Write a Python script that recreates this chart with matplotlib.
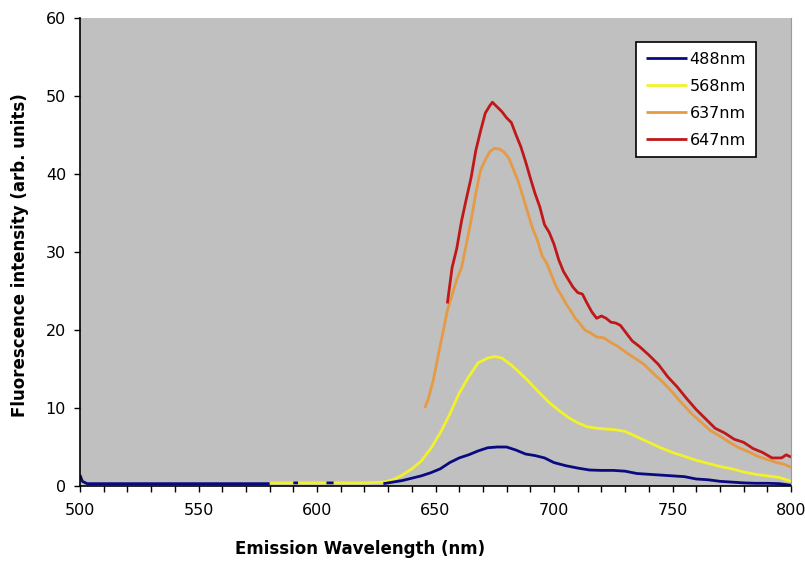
import numpy as np
import matplotlib
matplotlib.use("Agg")
import matplotlib.pyplot as plt
from matplotlib.ticker import MultipleLocator

nan = np.nan

# 488 nm excitation (gap around 580-628 nm, only a couple of short stubs)
wl_488 = [500, 501, 503, 510, 520, 530, 540, 550, 560, 570, 580, nan,
          590, 592, nan, 604, 607, nan,
          628, 632, 636, 640, 644, 648, 652, 656, 660, 664, 668, 672, 676, 680,
          684, 688, 692, 696, 700, 705, 710, 715, 720, 725, 730, 735, 740, 745,
          750, 755, 760, 765, 770, 775, 780, 785, 790, 795, 800]
int_488 = [1.4, 0.6, 0.3, 0.3, 0.3, 0.3, 0.3, 0.3, 0.3, 0.3, 0.3, nan,
           0.4, 0.4, nan, 0.4, 0.4, nan,
           0.3, 0.5, 0.7, 1.0, 1.3, 1.7, 2.2, 3.0, 3.6, 4.0, 4.5, 4.9, 5.0, 5.0,
           4.6, 4.1, 3.9, 3.6, 3.0, 2.6, 2.3, 2.05, 2.0, 2.0, 1.9, 1.6, 1.5, 1.4,
           1.3, 1.2, 0.9, 0.8, 0.6, 0.5, 0.4, 0.35, 0.35, 0.3, 0.1]

# 568 nm excitation
wl_568 = [580, 590, 600, 610, 620, 628, 632, 636, 640, 644, 648, 652, 656, 660,
          664, 668, 672, 675, 678, 682, 686, 690, 694, 698, 702, 706, 710, 714,
          718, 722, 726, 730, 735, 740, 745, 750, 755, 760, 765, 770, 775, 780,
          785, 790, 795, 800]
int_568 = [0.4, 0.4, 0.4, 0.4, 0.4, 0.5, 0.8, 1.4, 2.2, 3.2, 4.8, 6.8, 9.2, 11.9,
           14.0, 15.8, 16.4, 16.6, 16.4, 15.5, 14.4, 13.2, 11.9, 10.7, 9.7, 8.8,
           8.1, 7.6, 7.4, 7.3, 7.2, 7.0, 6.3, 5.6, 4.9, 4.3, 3.8, 3.3, 2.9, 2.5,
           2.2, 1.8, 1.5, 1.3, 1.1, 0.6]

# 637 nm excitation
wl_637 = [645.5, 647, 649, 651, 653, 655, 657, 659, 661, 663, 665, 667, 669, 671,
          673, 675, 677, 679, 681, 683, 685, 687, 689, 691, 693, 695, 697, 699,
          701, 703, 705, 707, 709, 711, 713, 715, 718, 721, 724, 727, 730, 734,
          738, 742, 746, 750, 754, 758, 762, 766, 770, 774, 778, 782, 786, 790,
          794, 797, 800]
int_637 = [10.0, 11.2, 13.5, 16.5, 19.5, 22.5, 24.5, 26.5, 28.0, 31.0, 34.0, 37.5,
           40.5, 41.8, 42.9, 43.3, 43.2, 42.8, 42.0, 40.5, 39.0, 37.0, 35.0, 33.0,
           31.5, 29.5, 28.5, 27.0, 25.5, 24.5, 23.4, 22.5, 21.5, 20.8, 20.0, 19.7,
           19.1, 19.0, 18.4, 17.9, 17.2, 16.4, 15.6, 14.4, 13.3, 12.0, 10.6, 9.3,
           8.2, 7.1, 6.4, 5.6, 4.9, 4.4, 3.8, 3.4, 3.0, 2.8, 2.4]

# 647 nm excitation
wl_647 = [655, 657, 659, 661, 663, 665, 667, 669, 671, 673, 674, 676, 678, 680,
          682, 684, 686, 688, 690, 692, 694, 696, 698, 700, 702, 704, 706, 708,
          710, 712, 714, 716, 718, 720, 722, 724, 726, 728, 730, 733, 736, 740,
          744, 748, 752, 756, 760, 764, 768, 772, 776, 780, 784, 788, 792, 796,
          798, 800]
int_647 = [23.4, 28.0, 30.5, 34.0, 36.8, 39.5, 43.0, 45.5, 47.8, 48.8, 49.2, 48.6,
           48.0, 47.2, 46.6, 45.0, 43.5, 41.6, 39.5, 37.5, 35.8, 33.5, 32.5, 31.0,
           29.0, 27.5, 26.5, 25.5, 24.8, 24.6, 23.4, 22.3, 21.5, 21.8, 21.5, 21.0,
           20.9, 20.6, 19.8, 18.6, 17.9, 16.8, 15.6, 14.0, 12.7, 11.2, 9.8, 8.6,
           7.4, 6.8, 6.0, 5.6, 4.8, 4.3, 3.6, 3.6, 4.0, 3.7]

labels = ["488nm", "568nm", "637nm", "647nm"]
colors = ["#0a0a80", "#f2f22a", "#e59a45", "#c01818"]
# blue sits on top so its short stubs show over the yellow baseline
zorders = [2.5, 2.1, 2.2, 2.3]

fig = plt.figure(figsize=(8.05, 5.61), dpi=100)
ax = fig.add_axes([80 / 805, 1 - 486 / 561, 711 / 805, 468 / 561])
ax.set_facecolor("#c0c0c0")

series = [(wl_488, int_488), (wl_568, int_568), (wl_637, int_637), (wl_647, int_647)]
for (x, y), lab, c, z in zip(series, labels, colors, zorders):
    ax.plot(x, y, color=c, lw=2.0, label=lab, solid_capstyle="butt", zorder=z)

ax.set_xlim(500, 800)
ax.set_ylim(0, 60)
ax.xaxis.set_major_locator(MultipleLocator(50))
ax.xaxis.set_minor_locator(MultipleLocator(10))
ax.yaxis.set_major_locator(MultipleLocator(10))
ax.tick_params(axis="both", which="both", direction="out", length=4, width=1,
               labelsize=11.5, colors="black")
ax.tick_params(axis="x", pad=8)
ax.tick_params(axis="y", pad=6)

for s in ["left", "bottom"]:
    ax.spines[s].set_color("black")
    ax.spines[s].set_linewidth(1.2)
ax.spines["top"].set_visible(False)
ax.spines["right"].set_color("#9a9a9a")

ax.set_xlabel("Emission Wavelength (nm)", fontsize=12, fontweight="bold")
ax.set_ylabel("Fluorescence intensity (arb. units)", fontsize=12, fontweight="bold")
ax.xaxis.set_label_coords(0.394, -0.116)
ax.yaxis.set_label_coords(-0.072, 0.494)

leg = ax.legend(loc="upper left", bbox_to_anchor=(636 / 805, 1 - 42 / 561),
                bbox_transform=fig.transFigure, fontsize=11.5, frameon=True,
                fancybox=False, framealpha=1, edgecolor="black",
                handlelength=2.6, handletextpad=0.15, labelspacing=0.75,
                borderpad=0.6, borderaxespad=0)
leg.get_frame().set_linewidth(1.2)

fig.savefig("out.png", dpi=100, facecolor="white")
